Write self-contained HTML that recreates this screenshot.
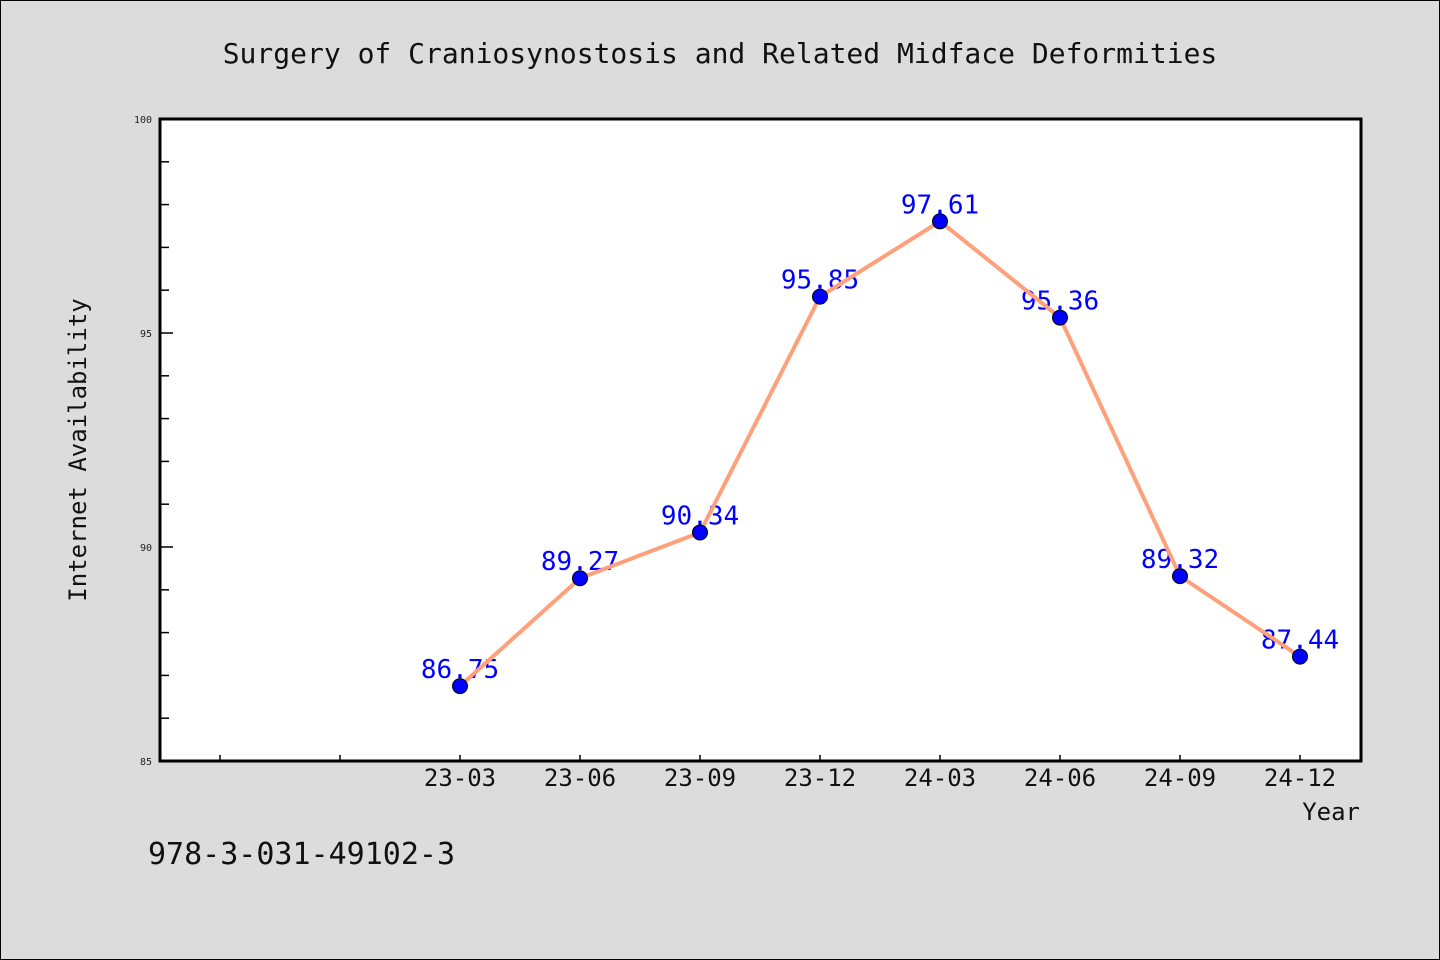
<!DOCTYPE html>
<html><head><meta charset="utf-8"><style>
body{margin:0;background:#dcdcdc;}
svg{display:block;font-family:"WenQuanYi Zen Hei","DejaVu Sans Mono",monospace;}
</style></head><body>
<svg width="1440" height="960" viewBox="0 0 1440 960">
<rect x="0.5" y="0.5" width="1439" height="959" fill="#dcdcdc" stroke="#000"/>
<text x="720" y="63" text-anchor="middle" font-size="28" fill="#111">Surgery of Craniosynostosis and Related Midface Deformities</text>
<rect x="160" y="119" width="1201" height="642" fill="#fff"/>
<g id="yaxis"></g>
<g id="xaxis"></g>
<g id="series"></g>
<rect x="160" y="119" width="1201" height="642" fill="none" stroke="#000" stroke-width="3"/>
<text x="86" y="450" transform="rotate(-90 86 450)" text-anchor="middle" font-size="24" fill="#111">Internet Availability</text>
<text x="1360" y="820" text-anchor="end" font-size="24" fill="#111">Year</text>
<text x="148" y="864" font-size="30" fill="#111">978-3-031-49102-3</text>
</svg>
<script>
const categories=["23-03","23-06","23-09","23-12","24-03","24-06","24-09","24-12"];
const values=[86.75,89.27,90.34,95.85,97.61,95.36,89.32,87.44];
const yTickLabels=[85,90,95,100];
const yMin=85,yMax=100;
const NS="http://www.w3.org/2000/svg";
function y(v){return 761-(v-yMin)/(yMax-yMin)*642;}
function x(i){return 460+120*i;}
function mk(t,a,p,txt){const e=document.createElementNS(NS,t);for(const k in a)e.setAttribute(k,a[k]);if(txt!==undefined)e.textContent=txt;p.appendChild(e);return e;}
const ya=document.getElementById('yaxis'),xa=document.getElementById('xaxis'),s=document.getElementById('series');
for(let v=yMin;v<=yMax;v++){
 const major=yTickLabels.includes(v);
 const t=mk('line',{x1:160,x2:major?173:169,y1:y(v),y2:y(v),stroke:'#000','stroke-width':1.5},ya);
 
 
}
yTickLabels.forEach(v=>{
 const t=mk('text',{x:152,y:y(v)+4,'text-anchor':'end','font-size':10,fill:'#222'},ya,String(v));
 
 
});
for(let i=-2;i<categories.length;i++){
 const t=mk('line',{x1:x(i),x2:x(i),y1:761,y2:755,stroke:'#000','stroke-width':1.5},xa);
 
 
}
categories.forEach((c,i)=>{
 const t=mk('text',{x:x(i),y:786,'text-anchor':'middle','font-size':24,fill:'#111'},xa,c);
 
 
});
values.forEach((v,i)=>{
 const t=mk('text',{x:x(i),y:y(v)-8,'text-anchor':'middle','font-size':26,fill:'#0000ff'},s,v.toFixed(2));
 
 
});
const pl=mk('polyline',{points:values.map((v,i)=>x(i)+','+y(v)).join(' '),fill:'none',stroke:'#ffa07a','stroke-width':4,'stroke-linejoin':'round'},s);


values.forEach((v,i)=>{
 const c=mk('circle',{cx:x(i),cy:y(v),r:7.5,fill:'#0000ff',stroke:'#000','stroke-width':1},s);
 
 
});
</script>
</body></html>
